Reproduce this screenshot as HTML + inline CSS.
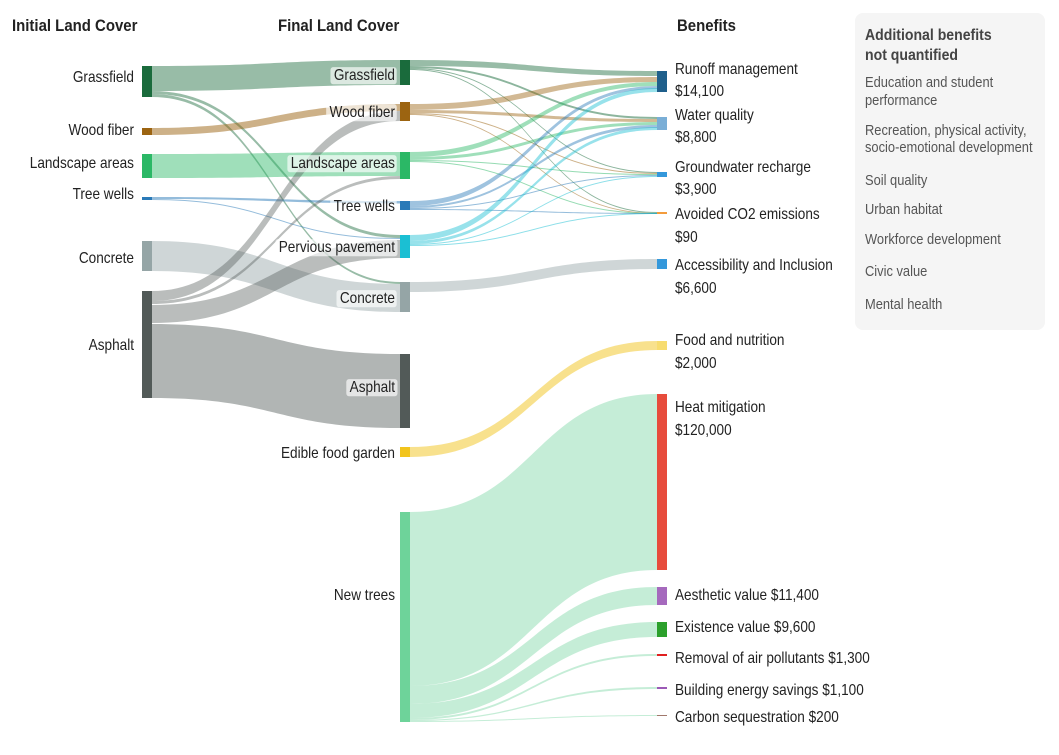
<!DOCTYPE html>
<html><head><meta charset="utf-8"><style>
body{margin:0;background:#fff;}
svg text{font-family:"Liberation Sans",sans-serif;font-size:16px;fill:#222;}
.h{font-weight:bold;font-size:17px;}
.g{fill:#555;font-size:15px;}
</style></head><body>
<svg id="s" width="1059" height="750" viewBox="0 0 1059 750" xmlns="http://www.w3.org/2000/svg">
<rect x="855" y="13" width="190" height="317" rx="8" fill="#f5f5f5"/>
<g id="flows"></g>
<g id="nodes"></g>
<g id="labels"></g>
<g id="static">
<text class="h" x="12" y="31">Initial Land Cover</text>
<text class="h" x="278" y="31">Final Land Cover</text>
<text class="h" x="677" y="31">Benefits</text>
<text class="h" x="865" y="40" style="fill:#444;font-size:16px">Additional benefits</text>
<text class="h" x="865" y="60" style="fill:#444;font-size:16px">not quantified</text>
<text class="g" x="865" y="87">Education and student</text>
<text class="g" x="865" y="105">performance</text>
<text class="g" x="865" y="135">Recreation, physical activity,</text>
<text class="g" x="865" y="152">socio-emotional development</text>
<text class="g" x="865" y="185">Soil quality</text>
<text class="g" x="865" y="214">Urban habitat</text>
<text class="g" x="865" y="244">Workforce development</text>
<text class="g" x="865" y="276">Civic value</text>
<text class="g" x="865" y="309">Mental health</text>
</g>
</svg>
<script>
var NS="http://www.w3.org/2000/svg";
function el(p,t,a){var e=document.createElementNS(NS,t);for(var k in a)e.setAttribute(k,a[k]);document.getElementById(p).appendChild(e);return e;}
function f(x0,a,c,x1,b,d,col,op){var m=(x0+x1)/2;
el("flows","path",{d:"M"+x0+","+a+"C"+m+","+a+" "+m+","+b+" "+x1+","+b+"L"+x1+","+d+"C"+m+","+d+" "+m+","+c+" "+x0+","+c+"Z",fill:col,"fill-opacity":op||0.45});}
function sc(x,s){return "translate("+x+",0) scale("+s+",1) translate("+(-x)+",0)";}
var L1=152,L2=400,M1=410,M2=657;
var GR="#1a6b3c",WF="#9c6411",LS="#2bb866",TW="#2a7ab8",PV="#1bbfd3",CO="#95a5a6",AS="#525a58",ED="#f2c41c",NT="#6ed39a";
f(L1,66,91,L2,60,85,GR);
f(L1,91,94,L2,235,238,GR);
f(L1,94,97,L2,282,284,GR);
f(L1,128,135,L2,104,111,WF,0.5);
f(L1,154,178,L2,152,176,LS,0.45);
f(L1,197,199,L2,201,203.5,TW,0.5);
f(L1,199,200,L2,238,239,TW,0.5);
f(L1,241,271,L2,284,312,CO,0.45);
f(L1,291,301,L2,111,121,AS,0.4);
f(L1,301,304,L2,176,179,AS,0.4);
f(L1,305,323,L2,240,258,AS,0.4);
f(L1,324,398,L2,354,428,AS,0.45);
f(M1,60,66,M2,71,76,GR,0.45);f(M1,66,68,M2,117,119,GR,0.5);f(M1,68,69,M2,172,173,GR,0.5);f(M1,69,70,M2,212,213,GR,0.5);
f(M1,104,110,M2,77,82,WF,0.45);f(M1,110,113,M2,119,122,WF,0.45);f(M1,113,114,M2,173,174,WF,0.5);f(M1,114,115,M2,213,213.8,WF,0.5);
f(M1,152,157,M2,82,86,LS,0.45);f(M1,157,160,M2,122,125,LS,0.45);f(M1,160,161,M2,174,175,LS,0.5);f(M1,161,162,M2,213,214,LS,0.5);
f(M1,201,206,M2,86,89,TW,0.45);f(M1,206,208,M2,125,128,TW,0.45);f(M1,208,209,M2,175,176,TW,0.5);f(M1,209,210,M2,213,214,TW,0.5);
f(M1,235,241,M2,88,92,PV,0.45);f(M1,241,244,M2,127,130,PV,0.45);f(M1,244,245,M2,176,177,PV,0.5);f(M1,245,246,M2,213,214,PV,0.5);
f(M1,282,292,M2,259,269,CO,0.45);
f(M1,447,457,M2,341,350,ED,0.5);
f(M1,512,686,M2,394,570,NT,0.4);
f(M1,686,704,M2,587,605,NT,0.4);
f(M1,704,718,M2,622,637,NT,0.4);
f(M1,718,720,M2,654,656,NT,0.4);
f(M1,720,721,M2,687,689,NT,0.4);
f(M1,721,722,M2,715,716,NT,0.4);
function n(x,y0,y1,c){el("nodes","rect",{x:x,y:y0,width:10,height:y1-y0,fill:c});}
n(142,66,97,GR);n(142,128,135,WF);n(142,154,178,LS);n(142,197,200,TW);n(142,241,271,CO);n(142,291,398,AS);
n(400,60,85,GR);n(400,102,121,WF);n(400,152,179,LS);n(400,201,210,TW);n(400,235,258,PV);n(400,282,312,CO);n(400,354,428,AS);n(400,447,457,ED);n(400,512,722,NT);
n(657,71,92,"#1f5f8b");n(657,117,130,"#7aaed6");n(657,172,177,"#3498db");n(657,212,214,"#f39c3c");n(657,259,269,"#3498db");
n(657,341,350,"#f7dc6f");n(657,394,570,"#e74c3c");n(657,587,605,"#a569bd");n(657,622,637,"#2ca02c");n(657,654,656,"#e02020");n(657,687,689,"#9b59b6");n(657,715,716,"#a0786c");
var S=0.85;
function t(x,y,s,anchor,bg){var e=el("labels","text",{x:x,y:y,"text-anchor":anchor||"start",transform:sc(x,S)});e.textContent=s;
if(bg){var b=e.getBBox();var r=document.createElementNS(NS,"rect");r.setAttribute("x",b.x-4);r.setAttribute("y",b.y);r.setAttribute("width",b.width+6);r.setAttribute("height",b.height);r.setAttribute("rx",3);r.setAttribute("fill","#fff");r.setAttribute("fill-opacity","0.65");r.setAttribute("transform",sc(x,S));e.parentNode.insertBefore(r,e);}}
t(134,82,"Grassfield","end");t(134,135,"Wood fiber","end");t(134,168,"Landscape areas","end");t(134,199,"Tree wells","end");t(134,263,"Concrete","end");t(134,350,"Asphalt","end");
t(395,80,"Grassfield","end",1);t(395,117,"Wood fiber","end",1);t(395,168,"Landscape areas","end",1);t(395,211,"Tree wells","end",1);t(395,252,"Pervious pavement","end",1);t(395,303,"Concrete","end",1);t(395,392,"Asphalt","end",1);t(395,458,"Edible food garden","end");t(395,600,"New trees","end");
t(675,74,"Runoff management");t(675,96,"$14,100");t(675,120,"Water quality");t(675,142,"$8,800");t(675,172,"Groundwater recharge");t(675,194,"$3,900");
t(675,219,"Avoided CO2 emissions");t(675,242,"$90");t(675,270,"Accessibility and Inclusion");t(675,293,"$6,600");
t(675,345,"Food and nutrition");t(675,368,"$2,000");t(675,412,"Heat mitigation");t(675,435,"$120,000");
t(675,600,"Aesthetic value  $11,400");t(675,632,"Existence value  $9,600");t(675,663,"Removal of air pollutants  $1,300");t(675,695,"Building energy savings  $1,100");t(675,722,"Carbon sequestration  $200");
var st=document.querySelectorAll("#static text");
for(var i=0;i<st.length;i++){var x=+st[i].getAttribute("x");st[i].setAttribute("transform",sc(x,st[i].classList.contains("h")?0.88:0.86));}
</script>
</body></html>
